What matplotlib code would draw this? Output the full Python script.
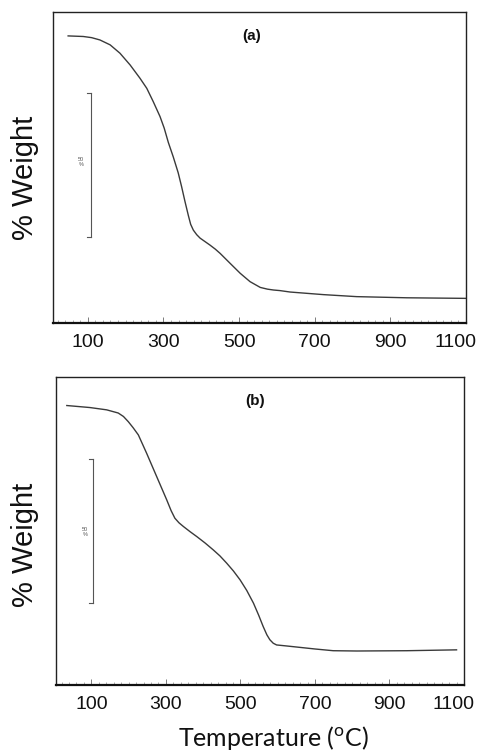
import matplotlib
matplotlib.use("Agg")
import matplotlib.pyplot as plt
from matplotlib.ticker import MultipleLocator
import matplotlib.transforms as mtransforms

plt.rcParams['font.family'] = ['Liberation Sans', 'DejaVu Sans']
plt.rcParams['mathtext.fontset'] = 'custom'
plt.rcParams['mathtext.rm'] = 'Lato'

# Curve (a): temperature (°C) vs % weight
temp_a = [48, 88, 110, 132, 159, 185, 212, 238, 256, 273, 291, 302, 313, 326, 339, 348,
          357, 366, 372, 379, 388, 397, 410, 423, 437, 450, 476, 503, 529, 556, 575,
          591, 608, 635, 723, 811, 944, 1100]
weight_a = [100, 99.8, 99.4, 98.6, 96.9, 94.0, 89.9, 85.3, 81.8, 77.2, 72.0, 68.0, 63.0,
            58.0, 52.5, 47.7, 42.5, 37.6, 34.6, 32.6, 31.0, 29.8, 28.6, 27.4, 26.0, 24.5,
            21.1, 17.6, 14.7, 12.7, 12.1, 11.8, 11.6, 11.1, 10.2, 9.5, 9.1, 8.9]

# Curve (b)
temp_b = [34, 96, 141, 172, 186, 199, 212, 226, 248, 275, 302, 314, 324, 335, 347, 365,
          383, 405, 427, 445, 463, 481, 499, 517, 535, 549, 561, 571, 579, 588, 597,
          620, 642, 700, 749, 812, 946, 1080]
weight_b = [100.1, 99.4, 98.6, 97.5, 96.3, 94.5, 92.4, 89.9, 83.6, 75.5, 67.4, 63.6, 61.0,
            59.4, 58.1, 56.3, 54.6, 52.4, 50.0, 47.9, 45.4, 42.7, 39.6, 35.9, 31.5, 27.3,
            23.4, 20.5, 18.8, 17.6, 17.0, 16.7, 16.4, 15.6, 15.0, 14.9, 15.0, 15.3]

tick_vals = [100, 300, 500, 700, 900, 1100]
tick_labels = ['100', '300', '500', '700', '900', '1100']
panel_labels = ['(a)', '(b)']
scale_label = '50\n%'

fig = plt.figure(figsize=(4.8, 7.54), dpi=100)
ax1 = fig.add_axes([53/480, 1-323/754, 413/480, 311/754])
ax2 = fig.add_axes([56/480, 1-685/754, 408/480, 308/754])

line_color = '#3a3a3a'
configs = [
    (ax1, temp_a, weight_a, (8, 1100), (0.35, 108.3), 108, (30.2, 80.2), 252, 36, 81, 162, 178),
    (ax2, temp_b, weight_b, (5, 1100), (3.1, 110.0), 104, (31.6, 81.6), 255, 401, 85, 532, 545),
]

for i, (ax, t, w, xl, yl, bar_x, bar_y, lx, ly, sx, sy, ylab_y) in enumerate(configs):
    ax.plot(t, w, color=line_color, lw=1.0, solid_joinstyle='round')
    ax.set_xlim(*xl)
    ax.set_ylim(*yl)
    ax.set_yticks([])
    ax.set_xticks(tick_vals)
    ax.set_xticklabels(tick_labels, fontsize=14, color='#111111')
    ax.xaxis.set_minor_locator(MultipleLocator(20))
    ax.tick_params(axis='x', which='major', direction='in', length=4, width=0.6,
                   color='#666666', pad=8)
    ax.tick_params(axis='x', which='minor', direction='in', length=2, width=0.5,
                   color='#888888')
    labs = ax.get_xticklabels()
    labs[-1].set_transform(labs[-1].get_transform() +
                           mtransforms.ScaledTranslation(-10/100, 0, fig.dpi_scale_trans))
    for s in ['left', 'right', 'top']:
        ax.spines[s].set_linewidth(1.0)
        ax.spines[s].set_color('#222222')
    ax.spines['bottom'].set_linewidth(1.6)
    ax.spines['bottom'].set_color('#111111')

    # scale bar
    ax.plot([bar_x, bar_x], list(bar_y), color='#555555', lw=0.8)
    for yy in bar_y:
        ax.plot([bar_x - 10, bar_x], [yy, yy], color='#555555', lw=0.8)

    fig.text(sx/480, 1-sy/754, scale_label, fontsize=4, ha='center', va='center',
             color='#555555', linespacing=1.0)
    fig.text(lx/480, 1-ly/754, panel_labels[i], fontsize=11, fontweight='bold',
             ha='center', va='center', color='#111111')
    fig.text(25/480, 1-ylab_y/754, '% Weight', rotation=90, fontsize=21,
             ha='center', va='center', color='#111111')

fig.text(273/480, 1-738/754, 'Temperature ($^{\\mathrm{o}}$C)', fontsize=18,
         ha='center', va='center', fontfamily='Lato', color='#111111')

fig.savefig('out.png', dpi=100)
